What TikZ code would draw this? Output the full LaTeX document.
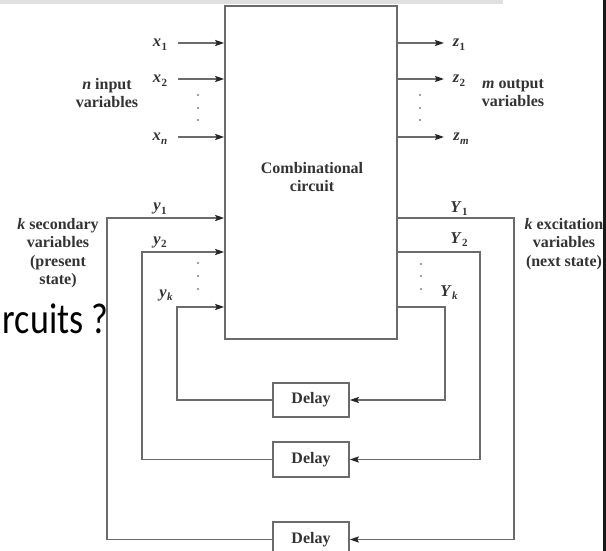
\documentclass[tikz,border=0pt]{standalone}
\usepackage{fontspec}
\setmainfont{Liberation Serif}
\newfontfamily\slidefont{Carlito}
\usetikzlibrary{arrows.meta}
\newcommand{\sv}[2]{\textit{#1}\kern0.3pt\raisebox{-0.45ex}{\fontsize{11}{11}\selectfont #2}}
\tikzset{
  wire/.style={draw=black!58, line width=1.6pt},
  arr/.style={-{Stealth[length=9pt,width=6pt,inset=1.5pt,color=black!85,fill=black!85]}},
  box/.style={draw=black!58, line width=1.6pt, fill=white},
  lbl/.style={font=\fontsize{16}{18.5}\selectfont\bfseries, text=black!80, align=center, inner sep=0pt},
  var/.style={font=\fontsize{16.5}{18}\selectfont\bfseries, text=black!80, inner sep=0pt, anchor=base},
  dot/.style={fill=black!50}
}
\begin{document}
\begin{tikzpicture}[x=1pt,y=-1pt]
\useasboundingbox (0,0) rectangle (606,551);
\fill[white] (0,0) rectangle (606,551);
% screenshot frame
\fill[black!12] (0,0) rectangle (503,4);
\fill[black!90] (602.5,0) rectangle (606,551);

% slide text
\node[font=\slidefont\fontsize{36}{36}\selectfont, anchor=base east, inner sep=0pt, yscale=1.2] (slide) at (108.5,333) {rcuits ?};

% main box
\node[box, minimum width=172pt, minimum height=333pt, inner sep=0pt] (cc) at (311,172.5) {};
\node[lbl] (cct) at (312,177) {Combinational\\circuit};

% delay boxes
\node[box, lbl, minimum width=76pt, minimum height=34pt] (d1) at (311,400) {Delay};
\node[box, lbl, minimum width=76pt, minimum height=35pt] (d2) at (311,459.5) {Delay};
\node[box, lbl, minimum width=76pt, minimum height=35pt] (d3) at (311,539.5) {Delay};

% inputs
\node[var] (x1) at (160,47) {\sv{x}{1}};
\node[var] (x2) at (160,83) {\sv{x}{2}};
\node[var] (xn) at (160,141) {\sv{x}{\textit{n}}};
\coordinate (xi1) at (178,43);
\coordinate (xi2) at (178,79);
\coordinate (xin) at (178,137);
\draw[wire,arr] (xi1) -- (xi1 -| cc.west);
\draw[wire,arr] (xi2) -- (xi2 -| cc.west);
\draw[wire,arr] (xin) -- (xin -| cc.west);
\foreach \yy in {95,108,120} \fill[dot] (198,\yy) circle (1.1pt);
\node[lbl] (inlbl) at (107,93) {\textit{n} input\\variables};

% outputs
\node[var] (z1) at (459,47) {\sv{z}{1}};
\node[var] (z2) at (459,83) {\sv{z}{2}};
\node[var] (zm) at (461,141) {\sv{z}{\textit{m}}};
\coordinate (zo1) at (444,43);
\coordinate (zo2) at (444,79);
\coordinate (zom) at (444,137);
\draw[wire,arr] (zo1 -| cc.east) -- (zo1);
\draw[wire,arr] (zo2 -| cc.east) -- (zo2);
\draw[wire,arr] (zom -| cc.east) -- (zom);
\foreach \yy in {95,108,120} \fill[dot] (420,\yy) circle (1.1pt);
\node[lbl] (outlbl) at (513,93) {\textit{m} output\\variables};

% secondary variables
\node[var] (y1) at (160,211) {\sv{y}{1}};
\node[var] (y2) at (160,244) {\sv{y}{2}};
\node[var] (yk) at (166,297) {\sv{y}{\textit{k}}};
\foreach \yy in {263,276,289} \fill[dot] (198,\yy) circle (1.1pt);
\node[lbl] (seclbl) at (58,253) {\textit{k} secondary\\variables\\(present\\state)};

% excitation variables
\node[var] (Y1) at (459,212) {\sv{Y}{1}};
\node[var] (Y2) at (459,243) {\sv{Y}{2}};
\node[var] (Yk) at (449,296) {\sv{Y}{\textit{k}}};
\foreach \yy in {264,276,289} \fill[dot] (421,\yy) circle (1.1pt);
\node[lbl] (exclbl) at (564,244) {\textit{k} excitation\\variables\\(next state)};

% feedback loops
\coordinate (r1) at (514,218);
\coordinate (r2) at (480,252);
\coordinate (r3) at (445,307);
\coordinate (l1) at (107,218);
\coordinate (l2) at (142,252);
\coordinate (l3) at (177,307);
\draw[wire,arr] (r1 -| cc.east) -- (r1) |- (d3.east);
\draw[wire,arr] (r2 -| cc.east) -- (r2) |- (d2.east);
\draw[wire,arr] (r3 -| cc.east) -- (r3) |- (d1.east);
\draw[wire,arr] (d3.west) -| (l1) -- (l1 -| cc.west);
\draw[wire,arr] (d2.west) -| (l2) -- (l2 -| cc.west);
\draw[wire,arr] (d1.west) -| (l3) -- (l3 -| cc.west);
\end{tikzpicture}
\end{document}
